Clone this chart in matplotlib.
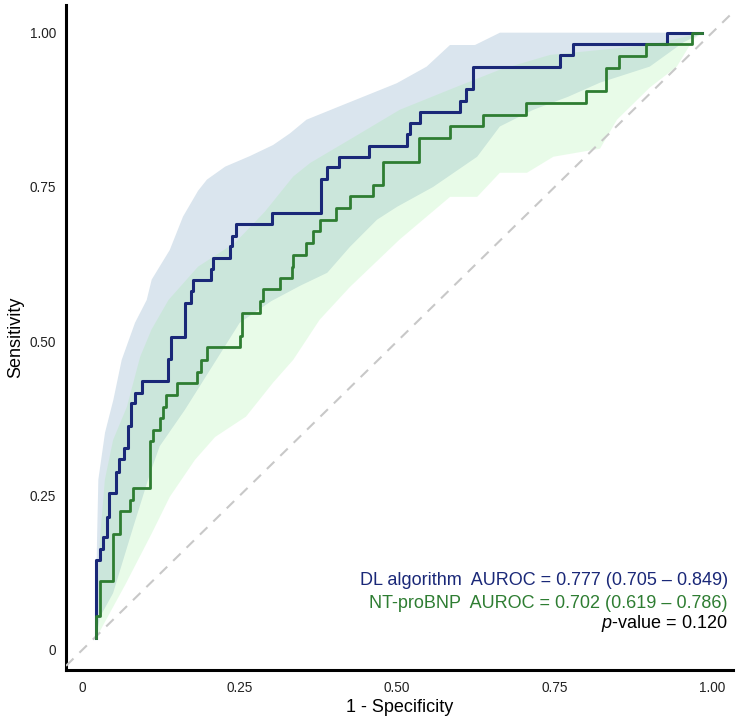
import matplotlib
matplotlib.use("Agg")
import matplotlib.pyplot as plt
import numpy as np

plt.rcParams['font.family'] = ['Liberation Sans', 'DejaVu Sans']
plt.rcParams['mathtext.fontset'] = 'custom'
plt.rcParams['mathtext.rm'] = 'Liberation Sans'
plt.rcParams['mathtext.it'] = 'Liberation Sans:italic'

# ---- ROC step curves (1 - specificity, sensitivity) ----
dl_fpr = [0.022, 0.022, 0.0275, 0.033, 0.0386, 0.0433, 0.0529, 0.0581, 0.0671, 0.0727,
          0.0775, 0.0838, 0.0944, 0.1367, 0.1414, 0.1632, 0.1727, 0.1763, 0.2044, 0.2071,
          0.2346, 0.2383, 0.2437, 0.3017, 0.3786, 0.389, 0.4081, 0.4557, 0.5163, 0.5211,
          0.537, 0.5997, 0.6092, 0.6198, 0.7584, 0.779, 0.9283, 0.9833]
dl_tpr = [0.019, 0.146, 0.164, 0.183, 0.216, 0.255, 0.289, 0.309, 0.327, 0.363,
          0.400, 0.417, 0.435, 0.472, 0.507, 0.562, 0.581, 0.600, 0.617, 0.635,
          0.654, 0.670, 0.690, 0.708, 0.763, 0.782, 0.799, 0.817, 0.836, 0.853,
          0.872, 0.890, 0.909, 0.944, 0.964, 0.981, 1.0, 1.0]

nt_fpr = [0.022, 0.022, 0.0283, 0.0494, 0.0605, 0.0759, 0.0806, 0.1076, 0.1129, 0.1235,
          0.1287, 0.1338, 0.15, 0.1817, 0.1878, 0.1976, 0.2505, 0.2537, 0.2822, 0.2875,
          0.314, 0.3325, 0.3351, 0.356, 0.3668, 0.3775, 0.4033, 0.4251, 0.4621, 0.4775,
          0.5354, 0.5846, 0.6357, 0.7049, 0.7997, 0.8314, 0.8525, 0.8954, 0.9679, 0.9838]
nt_tpr = [0.019, 0.055, 0.112, 0.188, 0.225, 0.243, 0.263, 0.339, 0.357, 0.376,
          0.394, 0.413, 0.432, 0.451, 0.470, 0.490, 0.508, 0.546, 0.565, 0.584,
          0.602, 0.621, 0.640, 0.659, 0.678, 0.697, 0.716, 0.735, 0.754, 0.791,
          0.830, 0.848, 0.866, 0.886, 0.905, 0.943, 0.962, 0.981, 1.0, 1.0]

# ---- confidence bands ----
dl_ci_up_x = [0.022, 0.024, 0.0256, 0.0362, 0.0494, 0.0627, 0.0838, 0.1024, 0.1103, 0.139,
              0.160, 0.184, 0.198, 0.227, 0.266, 0.303, 0.330, 0.356, 0.4092, 0.4992,
              0.5468, 0.5838, 0.6235, 0.6632, 0.985]
dl_ci_up_y = [0.10, 0.20, 0.276, 0.352, 0.405, 0.47, 0.53, 0.567, 0.60, 0.648,
              0.702, 0.744, 0.762, 0.783, 0.80, 0.818, 0.837, 0.859, 0.881, 0.918,
              0.945, 0.98, 0.98, 1.0, 1.0]
dl_ci_lo_x = [0.022, 0.028, 0.049, 0.081, 0.108, 0.123, 0.163, 0.25, 0.30, 0.346,
              0.389, 0.425, 0.468, 0.50, 0.557, 0.627, 0.663, 0.716, 0.771, 0.822,
              0.901, 0.954, 0.985]
dl_ci_lo_y = [0.019, 0.053, 0.092, 0.199, 0.287, 0.33, 0.389, 0.53, 0.565, 0.59,
              0.611, 0.653, 0.697, 0.718, 0.75, 0.799, 0.848, 0.875, 0.896, 0.919,
              0.945, 0.984, 1.0]

nt_ci_up_x = [0.022, 0.025, 0.028, 0.036, 0.049, 0.071, 0.092, 0.11, 0.137, 0.184,
              0.243, 0.29, 0.335, 0.362, 0.425, 0.504, 0.584, 0.663, 0.743, 0.822,
              0.901, 0.985]
nt_ci_up_y = [0.02, 0.109, 0.178, 0.276, 0.34, 0.394, 0.475, 0.519, 0.567, 0.621,
              0.66, 0.71, 0.767, 0.789, 0.827, 0.875, 0.908, 0.94, 0.964, 0.972,
              0.98, 1.0]
nt_ci_lo_x = [0.022, 0.068, 0.111, 0.139, 0.179, 0.211, 0.26, 0.303, 0.335, 0.377,
              0.425, 0.504, 0.584, 0.627, 0.663, 0.706, 0.748, 0.822, 0.849, 0.901,
              0.944, 0.97, 0.985]
nt_ci_lo_y = [0.019, 0.105, 0.19, 0.248, 0.308, 0.345, 0.378, 0.433, 0.47, 0.535,
              0.588, 0.665, 0.734, 0.734, 0.773, 0.773, 0.799, 0.812, 0.859, 0.911,
              0.945, 0.989, 1.0]

ticks = [0, 0.25, 0.5, 0.75, 1.0]
tick_labels = ["0", "0.25", "0.50", "0.75", "1.00"]

labels = ["DL algorithm", "NT-proBNP"]
auroc_text = ["AUROC = 0.777 (0.705 \u2013 0.849)", "AUROC = 0.702 (0.619 \u2013 0.786)"]
p_value = "0.120"

c_dl = "#1a2878"
c_nt = "#2e7d32"

fig = plt.figure(figsize=(7.41, 7.19), dpi=100)
ax = fig.add_axes([0.0891, 0.0682, 0.9, 0.925])

def band(ax, ux, uy, lx, ly, **kw):
    px = list(ux) + list(lx)[::-1]
    py = list(uy) + list(ly)[::-1]
    ax.fill(px, py, lw=0, **kw)

band(ax, dl_ci_up_x, dl_ci_up_y, dl_ci_lo_x, dl_ci_lo_y, color="#dae5ee", zorder=1)
band(ax, nt_ci_up_x, nt_ci_up_y, nt_ci_lo_x, nt_ci_lo_y, color="#90ee90", alpha=0.2, zorder=2)

ax.axline((0, 0), slope=1, color="#c8c8c8", lw=1.5, ls=(0, (5, 4)), zorder=3)

ax.plot(dl_fpr, dl_tpr, drawstyle="steps-post", color=c_dl, lw=2.2, zorder=4)
ax.plot(nt_fpr, nt_tpr, drawstyle="steps-post", color=c_nt, lw=2.0, zorder=5)

ax.set_xlim(-0.0257, 1.033)
ax.set_ylim(-0.0324, 1.045)
ax.set_xticks(ticks)
ax.set_xticklabels(tick_labels)
ax.set_yticks(ticks)
ax.set_yticklabels(tick_labels)
ax.tick_params(length=0, labelsize=9.8, colors="#222222")
ax.tick_params(axis="x", pad=8)
ax.tick_params(axis="y", pad=7)
ax.set_xlabel("1 - Specificity", fontsize=13, labelpad=3)
ax.set_ylabel("Sensitivity", fontsize=13, labelpad=4)

for s in ["top", "right"]:
    ax.spines[s].set_visible(False)
for s in ["left", "bottom"]:
    ax.spines[s].set_linewidth(2.2)
    ax.spines[s].set_color("black")

xr = 1.025
ax.text(xr, 0.105, labels[0] + "  " + auroc_text[0], ha="right", va="baseline",
        fontsize=13, color=c_dl, zorder=6)
ax.text(xr, 0.068, labels[1] + "  " + auroc_text[1], ha="right", va="baseline",
        fontsize=13, color=c_nt, zorder=6)
ax.text(xr, 0.036, r"$\it{p}$-value = " + p_value, ha="right", va="baseline",
        fontsize=13, color="black", zorder=6)

fig.savefig("out.png", dpi=100)
